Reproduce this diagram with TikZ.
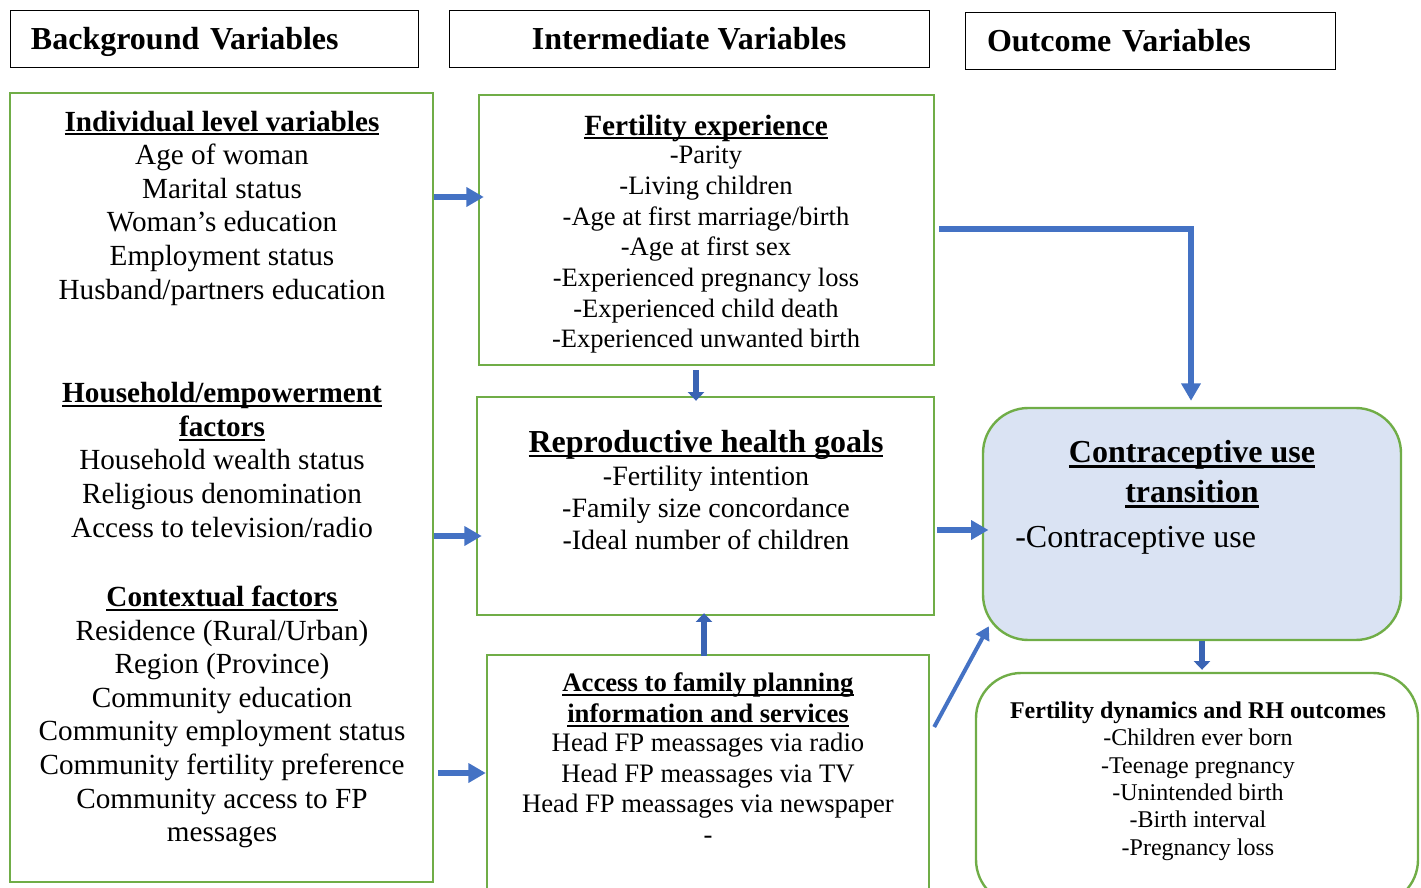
\documentclass[tikz,border=0pt]{standalone}
\usepackage{fontspec}
\setmainfont{Liberation Serif}
\usetikzlibrary{arrows.meta}
\definecolor{gr}{HTML}{70AD47}
\definecolor{bl}{HTML}{4472C4}
\definecolor{dbl}{HTML}{3A64B4}
\definecolor{lb}{HTML}{DAE3F3}
\newcommand{\fsz}[2]{\fontsize{#1}{#2}\selectfont}
\newcommand{\uln}[1]{\setbox0\hbox{#1}\rlap{\rule[-0.15em]{\wd0}{0.07em}}\box0}
\begin{document}
\begin{tikzpicture}[x=0.75pt,y=-0.75pt,
  hdr/.style={draw=black, line width=0.6pt, inner sep=0pt, minimum height=42.75pt, text depth=0pt, font=\fsz{24}{28}\bfseries},
  gbox/.style={draw=gr, line width=1.8pt, inner sep=0pt},
  rbox/.style={draw=gr, line width=1.8pt, inner sep=0pt, rounded corners=34pt},
  txt/.style={inner sep=0pt, align=center},
  bigarrow/.style={draw=bl, line width=5pt, -{Triangle[length=13pt,width=14pt]}},
  thinarrow/.style={draw=bl, line width=3pt, -{Triangle[length=10pt,width=11pt]}},
  blkarrow/.style={draw=dbl, line width=5pt, -{Triangle[length=6.5pt,width=12pt]}}
]
\clip (0,0) rectangle (1421,888);

% headers
\node[hdr, text width=274.5pt, inner xsep=15.75pt, align=left] (bg) at (214,38.5) {Background Variables};
\node[hdr, minimum width=360pt] (iv) at (689,38.5) {Intermediate Variables};
\node[hdr, text width=244.5pt, inner xsep=16.5pt, align=left] (ov) at (1150,40.5) {Outcome Variables};

% boxes
\node[gbox, minimum width=317.25pt, minimum height=591.75pt] (left) at (221.5,487.5) {};
\node[gbox, minimum width=341.25pt, minimum height=202.5pt] (fe) at (706.5,230) {};
\node[gbox, minimum width=342.75pt, minimum height=163.5pt] (rh) at (705.5,506) {};
\node[gbox, minimum width=331.5pt, minimum height=183.75pt] (acc) at (708,777.5) {};
\node[rbox, fill=lb, minimum width=313.5pt, minimum height=174pt] (cu) at (1192,524) {};
\node[rbox, minimum width=331.5pt, minimum height=174pt] (fd) at (1197,789) {};

% left box text
\node[txt, font=\fsz{21.9}{25.2}] (t1) at (222,208) {{\bfseries\uln{Individual level variables}}\\Age of woman\\Marital status\\Woman’s education\\Employment status\\Husband/partners education};
\node[txt, font=\fsz{21.9}{25.2}] (t2) at (222,460) {{\bfseries\uln{Household/empowerment}}\\{\bfseries\uln{factors}}\\Household wealth status\\Religious denomination\\Access to television/radio};
\node[txt, font=\fsz{21.9}{25.2}] (t3) at (222,717) {{\bfseries\uln{Contextual factors}}\\Residence (Rural/Urban)\\Region (Province)\\Community education\\Community employment status\\Community fertility preference\\Community access to FP\\messages};

% fertility experience
\node[txt, font=\fsz{22}{26}\bfseries] (fet) at (706,128) {\uln{Fertility experience}};
\node[txt, font=\fsz{19.9}{23}] (feb) at (706,250) {-Parity\\-Living children\\-Age at first marriage/birth\\-Age at first sex\\-Experienced pregnancy loss\\-Experienced child death\\-Experienced unwanted birth};

% reproductive health goals
\node[txt, font=\fsz{24}{28}\bfseries] (rht) at (706,445) {\uln{Reproductive health goals}};
\node[txt, font=\fsz{21}{24.2}] (rhb) at (706,508) {-Fertility intention\\-Family size concordance\\-Ideal number of children};

% access
\node[txt, font=\fsz{20}{23.25}\bfseries] (act) at (708,700) {\uln{Access to family planning}\\\uln{information and services}};
\node[txt, font=\fsz{20}{23}] (acb) at (708,791) {Head FP meassages via radio\\Head FP meassages via TV\\Head FP meassages via newspaper\\\vphantom{Hp}-};

% contraceptive use
\node[txt, font=\fsz{24}{30}\bfseries] (cut) at (1192,474) {\uln{Contraceptive use}\\\uln{transition}};
\node[txt, font=\fsz{24}{28}, anchor=west] (cub) at (1015,540) {-Contraceptive use};

% fertility dynamics
\node[txt, font=\fsz{18}{20.6}] (fdt) at (1198,781) {{\bfseries Fertility dynamics and RH outcomes}\\-Children ever born\\-Teenage pregnancy\\-Unintended birth\\-Birth interval\\-Pregnancy loss};

% arrows
\coordinate (y1) at (0,197);
\coordinate (y2) at (0,536);
\coordinate (y3) at (0,773);
\coordinate (y4) at (0,229);
\coordinate (y5) at (0,530);
\coordinate (y6) at (0,727);
\coordinate (x7) at (696,0);
\coordinate (x8) at (704,0);
\coordinate (x9) at (1202,0);
\coordinate (x4) at (1191,0);

\draw[bigarrow] (left.east |- y1) -- ([xshift=4.5pt]fe.west |- y1);
\draw[bigarrow] (left.east |- y2) -- ([xshift=4.5pt]rh.west |- y2);
\draw[bigarrow] ([xshift=3pt]left.east |- y3) -- ([xshift=0pt]acc.west |- y3);
\draw[bigarrow] ([xshift=3pt]fe.east |- y4) -| ([yshift=4.5pt]cu.north -| x4);
\draw[bigarrow] ([xshift=1.5pt]rh.east |- y5) -- ([xshift=5pt]cu.west |- y5);
\draw[thinarrow] ([xshift=3pt]acc.east |- y6) -- ([shift={(5.25pt,11.25pt)}]cu.south west);
\draw[blkarrow] ([yshift=-3pt]fe.south -| x7) -- ([yshift=-3.75pt]rh.north -| x7);
\draw[blkarrow] ([yshift=-1.5pt]acc.north -| x8) -- ([yshift=2.25pt]rh.south -| x8);
\draw[blkarrow] (cu.south -| x9) -- ([yshift=1.5pt]fd.north -| x9);
\end{tikzpicture}
\end{document}
